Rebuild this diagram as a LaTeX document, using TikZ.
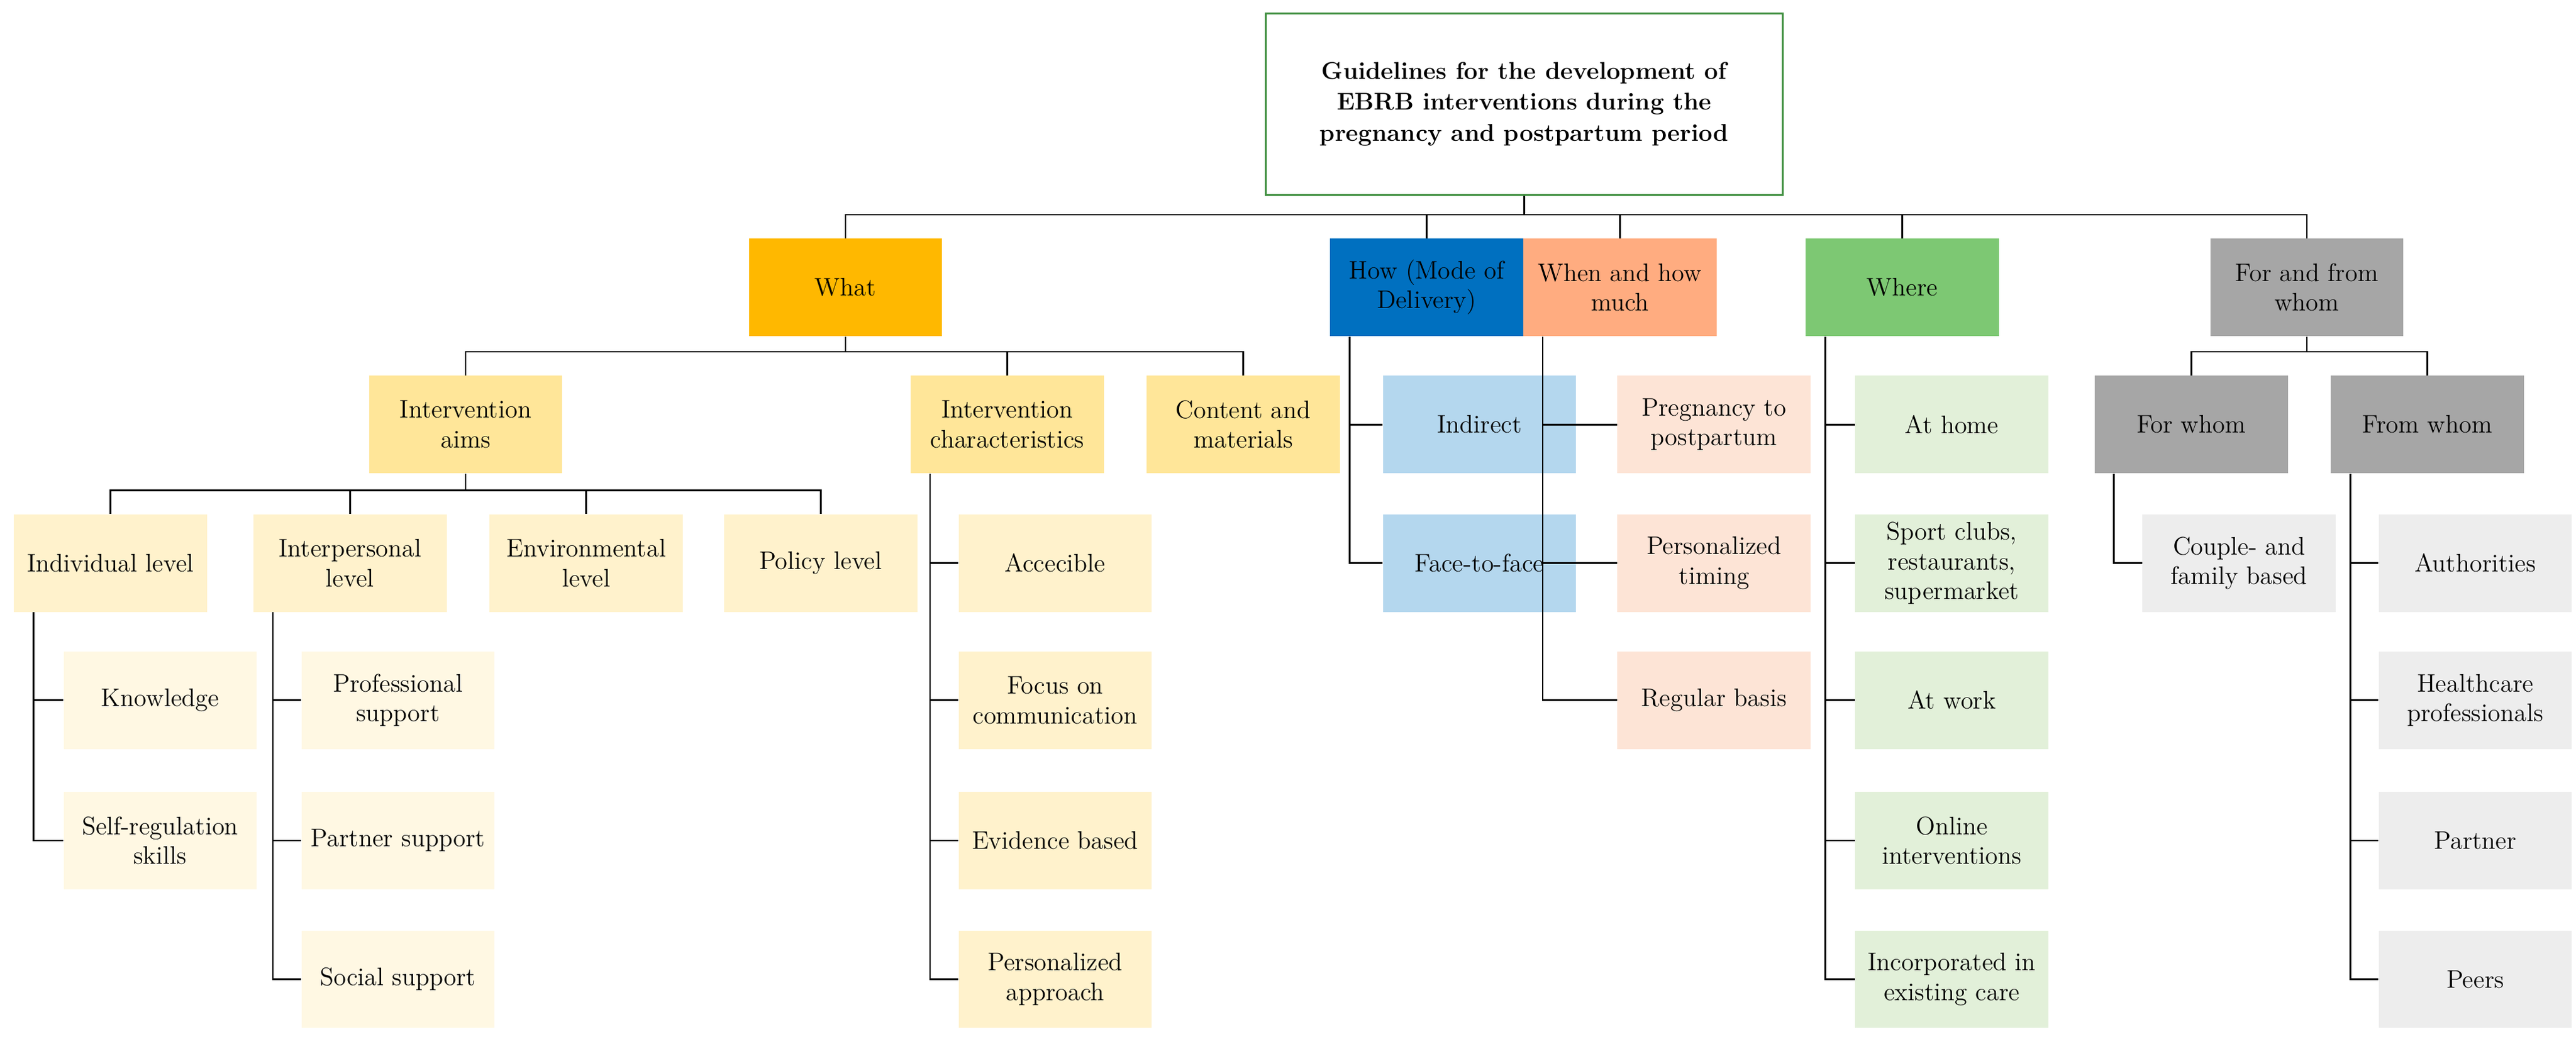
\documentclass[tikz,border=0pt]{standalone}
\usepackage{xcolor}
\definecolor{rootgreen}{HTML}{3E8E3E}
\definecolor{whatorange}{HTML}{FFB800}
\definecolor{whatmid}{HTML}{FFE699}
\definecolor{whatlight}{HTML}{FFF2CC}
\definecolor{whatpale}{HTML}{FFF8E3}
\definecolor{howblue}{HTML}{0070C0}
\definecolor{howlight}{HTML}{B4D7EE}
\definecolor{whensalmon}{HTML}{FFAC80}
\definecolor{whenlight}{HTML}{FDE4D6}
\definecolor{wheregreen}{HTML}{7DC873}
\definecolor{wherelight}{HTML}{E2F0D9}
\definecolor{whomgray}{HTML}{A6A6A6}
\definecolor{whomlight}{HTML}{EDEDED}
\begin{document}
\begin{tikzpicture}[x=0.75pt,y=-0.75pt,
  font=\fontsize{11.5}{13.5}\selectfont,
  box/.style={minimum width=117*0.75pt,minimum height=59*0.75pt,align=center,inner sep=1pt},
  link/.style={thick}]
            \useasboundingbox (0,0) rectangle (1560,632);

            \node[draw=rootgreen,thick,fill=white,minimum width=313*0.75pt,minimum height=110*0.75pt,align=center,font=\fontsize{11}{14}\selectfont\bfseries] (root) at (923,63) {Guidelines for the development of\\EBRB interventions during the\\pregnancy and postpartum period};

            % first level
            \node[box,fill=whatorange] (what) at (512,174) {What};
            \node[box,fill=howblue] (how) at (864,174) {How (Mode of\\Delivery)};
            \node[box,fill=whensalmon] (when) at (981,174) {When and how\\much};
            \node[box,fill=wheregreen] (where) at (1152,174) {Where};
            \node[box,fill=whomgray] (whom) at (1397,174) {For and from\\whom};

            % what
            \node[box,fill=whatmid] (aims) at (282,257) {Intervention\\aims};
            \node[box,fill=whatmid] (chars) at (610,257) {Intervention\\characteristics};
            \node[box,fill=whatmid] (content) at (753,257) {Content and\\materials};

            \node[box,fill=whatlight] (indiv) at (67,341) {Individual level};
            \node[box,fill=whatlight] (inter) at (212,341) {Interpersonal\\level};
            \node[box,fill=whatlight] (envir) at (355,341) {Environmental\\level};
            \node[box,fill=whatlight] (policy) at (497,341) {Policy level};

            \node[box,fill=whatpale] (know) at (97,424) {Knowledge};
            \node[box,fill=whatpale] (selfreg) at (97,509) {Self-regulation\\skills};
            \node[box,fill=whatpale] (profsup) at (241,424) {Professional\\support};
            \node[box,fill=whatpale] (partsup) at (241,509) {Partner support};
            \node[box,fill=whatpale] (socsup) at (241,593) {Social support};

            \node[box,fill=whatlight] (access) at (639,341) {Accecible};
            \node[box,fill=whatlight] (focus) at (639,424) {Focus on\\communication};
            \node[box,fill=whatlight] (evid) at (639,509) {Evidence based};
            \node[box,fill=whatlight] (perso) at (639,593) {Personalized\\approach};

            % how
            \node[box,fill=howlight] (indirect) at (896,257) {Indirect};
            \node[box,fill=howlight] (face) at (896,341) {Face-to-face};

            % when
            \node[box,fill=whenlight] (pregpost) at (1038,257) {Pregnancy to\\postpartum};
            \node[box,fill=whenlight] (timing) at (1038,341) {Personalized\\timing};
            \node[box,fill=whenlight] (regular) at (1038,424) {Regular basis};

            % where
            \node[box,fill=wherelight] (home) at (1182,257) {At home};
            \node[box,fill=wherelight] (sport) at (1182,341) {Sport clubs,\\restaurants,\\supermarket};
            \node[box,fill=wherelight] (work) at (1182,424) {At work};
            \node[box,fill=wherelight] (online) at (1182,509) {Online\\interventions};
            \node[box,fill=wherelight] (care) at (1182,593) {Incorporated in\\existing care};

            % for and from whom
            \node[box,fill=whomgray] (forwhom) at (1327,257) {For whom};
            \node[box,fill=whomgray] (fromwhom) at (1470,257) {From whom};
            \node[box,fill=whomlight] (couple) at (1356,341) {Couple- and\\family based};
            \node[box,fill=whomlight] (auth) at (1499,341) {Authorities};
            \node[box,fill=whomlight] (health) at (1499,424) {Healthcare\\professionals};
            \node[box,fill=whomlight] (partner) at (1499,509) {Partner};
            \node[box,fill=whomlight] (peers) at (1499,593) {Peers};

            \coordinate (busA) at (0,130);
            \coordinate (busB) at (0,213);
            \coordinate (busC) at (0,297);

            \draw[link] (root.south) -- (root.south |- busA);
            \draw[link] (what.north) -- (what.north |- busA) -- (whom.north |- busA) -- (whom.north);
            \foreach \n in {how,when,where} \draw[link] (\n.north) -- (\n.north |- busA);

            \draw[link] (what.south) -- (what.south |- busB);
            \draw[link] (aims.north) -- (aims.north |- busB) -- (content.north |- busB) -- (content.north);
            \draw[link] (chars.north) -- (chars.north |- busB);

            \draw[link] (aims.south) -- (aims.south |- busC);
            \draw[link] (indiv.north) -- (indiv.north |- busC) -- (policy.north |- busC) -- (policy.north);
            \foreach \n in {inter,envir} \draw[link] (\n.north) -- (\n.north |- busC);

            \draw[link] (whom.south) -- (whom.south |- busB);
            \draw[link] (forwhom.north) -- (forwhom.north |- busB) -- (fromwhom.north |- busB) -- (fromwhom.north);

            % side branches
            \draw[link] ([xshift=9pt]indiv.south west) |- (selfreg.west);
            \draw[link] ([xshift=9pt]indiv.south west |- know.west) -- (know.west);
            \draw[link] ([xshift=9pt]inter.south west) |- (socsup.west);
            \foreach \n in {profsup,partsup} \draw[link] ([xshift=9pt]inter.south west |- \n.west) -- (\n.west);
            \draw[link] ([xshift=9pt]chars.south west) |- (perso.west);
            \foreach \n in {access,focus,evid} \draw[link] ([xshift=9pt]chars.south west |- \n.west) -- (\n.west);
            \draw[link] ([xshift=9pt]how.south west) |- (face.west);
            \draw[link] ([xshift=9pt]how.south west |- indirect.west) -- (indirect.west);
            \draw[link] ([xshift=9pt]when.south west) |- (regular.west);
            \foreach \n in {pregpost,timing} \draw[link] ([xshift=9pt]when.south west |- \n.west) -- (\n.west);
            \draw[link] ([xshift=9pt]where.south west) |- (care.west);
            \foreach \n in {home,sport,work,online} \draw[link] ([xshift=9pt]where.south west |- \n.west) -- (\n.west);
            \draw[link] ([xshift=9pt]forwhom.south west) |- (couple.west);
            \draw[link] ([xshift=9pt]fromwhom.south west) |- (peers.west);
            \foreach \n in {auth,health,partner} \draw[link] ([xshift=9pt]fromwhom.south west |- \n.west) -- (\n.west);
        \end{tikzpicture}
\end{document}
